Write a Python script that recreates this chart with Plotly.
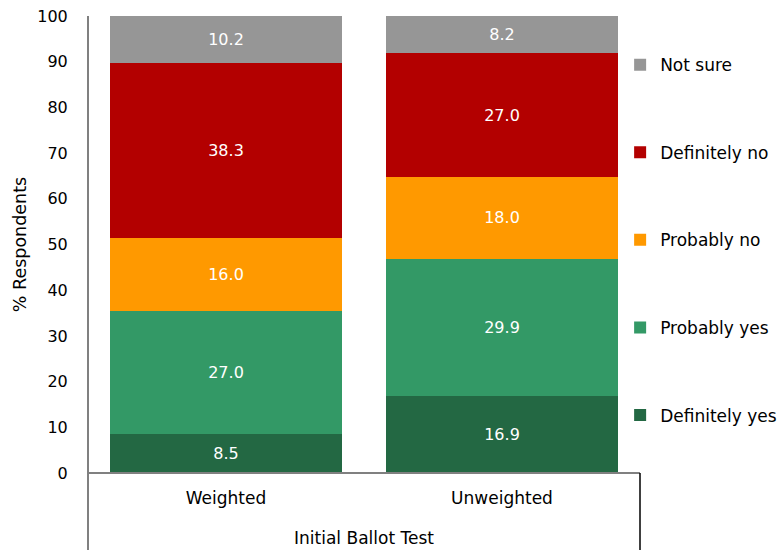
import plotly.graph_objects as go

categories = ["Weighted", "Unweighted"]
series_names = ["Definitely yes", "Probably yes", "Probably no", "Definitely no", "Not sure"]
definitely_yes = [8.5, 16.9]
probably_yes = [27.0, 29.9]
probably_no = [16.0, 18.0]
definitely_no = [38.3, 27.0]
not_sure = [10.2, 8.2]
y_ticks = [0, 10, 20, 30, 40, 50, 60, 70, 80, 90, 100]

series_values = [definitely_yes, probably_yes, probably_no, definitely_no, not_sure]
colors = ["#236843", "#339966", "#FF9900", "#B30000", "#969696"]

FONT = "DejaVu Sans"
fig = go.Figure()
n = len(series_names)
for i, (name, vals, col) in enumerate(zip(series_names, series_values, colors)):
    fig.add_trace(go.Bar(
        x=categories, y=vals, name=name, legendgroup=name, legendrank=n - i,
        marker=dict(color=col, line=dict(width=0)),
        text=[f"{v:.1f}" for v in vals], textposition="inside",
        insidetextanchor="middle", textangle=0,
        textfont=dict(color="white", size=16, family=FONT),
        hoverinfo="skip",
    ))

W, H = 782, 550
L, R, T, B = 88, 142, 16, 77
ph = H - T - B
fig.update_layout(
    width=W, height=H, barmode="stack", bargap=0.163,
    margin=dict(l=L, r=R, t=T, b=B, pad=0, autoexpand=False),
    paper_bgcolor="white", plot_bgcolor="white",
    font=dict(family=FONT, size=16, color="#000000"),
    showlegend=True,
    legend=dict(traceorder="grouped", tracegroupgap=62.5,
                x=0.964, xanchor="left", y=0.932, yanchor="top",
                itemwidth=30, font=dict(size=17, family=FONT),
                bgcolor="rgba(0,0,0,0)"),
    xaxis=dict(showgrid=False, showline=False, zeroline=False, automargin=False,
               ticks="outside", ticklen=10, tickcolor="rgba(0,0,0,0)",
               tickfont=dict(size=17),
               title=dict(text="Initial Ballot Test", font=dict(size=17), standoff=24)),
    yaxis=dict(range=[0, 100], tickvals=y_ticks, showgrid=False, showline=False,
               zeroline=False, automargin=False, ticks="outside", ticklen=16,
               tickcolor="rgba(0,0,0,0)", tickfont=dict(size=16),
               title=dict(text="% Respondents", font=dict(size=17.5), standoff=6)),
)
bottom = -B / ph
fig.add_shape(type="line", xref="paper", yref="paper", x0=0, x1=0, y0=bottom, y1=1,
              line=dict(color="#808080", width=2))
fig.add_shape(type="line", xref="paper", yref="paper", x0=0, x1=1, y0=0, y1=0,
              line=dict(color="#808080", width=2))
fig.add_shape(type="line", xref="paper", yref="paper", x0=1, x1=1, y0=bottom, y1=0,
              line=dict(color="#000000", width=1.5))
fig.write_html("out.html")
